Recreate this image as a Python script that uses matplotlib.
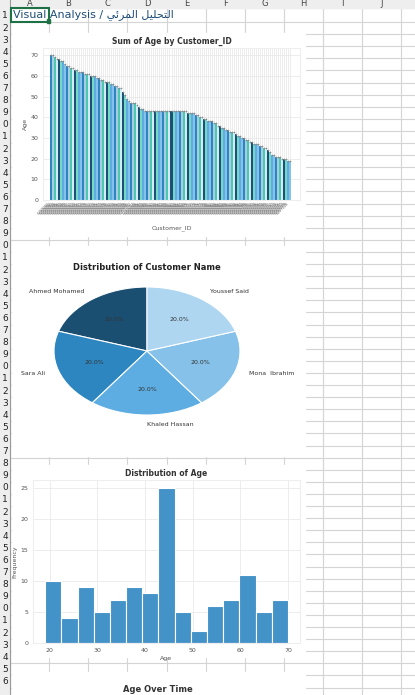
import numpy as np
import matplotlib.pyplot as plt
from matplotlib.patches import Rectangle

# ages per customer, already sorted high -> low
ages = [70, 70, 69, 68, 68, 67, 67,
        66, 65, 65, 64, 64,
        63, 63, 62, 62, 62, 61, 61, 61, 60, 60, 60,
        59, 59, 58, 58, 57, 57, 57,
        56, 56, 55, 55, 54, 54,
        52, 51,
        49, 48, 47, 47, 47,
        46, 45, 44, 44, 43, 43, 43, 43, 43, 43, 43, 43, 43, 43, 43, 43, 43, 43, 43, 43, 43, 43, 43, 43, 43,
        42, 42, 42, 42, 41, 41, 40, 40,
        39, 39, 38, 38, 38, 37, 37, 36, 36,
        35, 35, 34, 34, 33, 33, 33,
        32, 31, 31, 30, 30,
        29, 29, 28, 28, 27, 27, 27, 26, 26,
        25, 25, 24, 23,
        22, 22, 21, 21, 21, 20, 20, 20, 19, 19]
customer_ids = ["CUST%03d" % (i + 1) for i in range(len(ages))]

names = ["Ahmed Mohamed", "Sara Ali", "Khaled Hassan", "Mona  Ibrahim", "Youssef Said"]
shares = [20, 20, 20, 20, 20]
pie_colors = ["#1b4f72", "#2e86c1", "#5dade2", "#85c1e9", "#aed6f1"]

col_letters = ["A", "B", "C", "D", "E", "F", "G", "H", "I", "J"]

W, H = 415, 695
fig = plt.figure(figsize=(W / 100, H / 100), dpi=100)


def px_axes(x0, y0, x1, y1, **kw):
    return fig.add_axes([x0 / W, 1 - y1 / H, (x1 - x0) / W, (y1 - y0) / H], **kw)


# spreadsheet background
bg = px_axes(0, 0, W, H)
bg.set_xlim(0, W)
bg.set_ylim(H, 0)
bg.axis("off")
col_edges = [10, 49, 88, 127, 167, 206, 245, 284, 323, 362, 401]
row_edges = [8, 22] + [22 + 12.1 * k for k in range(1, 57)]
for x in col_edges:
    bg.plot([x, x], [0, H], color="#d4d4d4", lw=0.8)
for y in row_edges:
    bg.plot([0, W], [y, y], color="#d4d4d4", lw=0.8)
bg.add_patch(Rectangle((0, 0), W, 8, color="#eeeeee", zorder=2))
bg.add_patch(Rectangle((0, 0), 10, H, color="#eeeeee", zorder=2))
bg.plot([10, 10], [0, H], color="#9a9a9a", lw=0.8, zorder=3)
for i, c in enumerate(col_letters):
    bg.text((col_edges[i] + col_edges[i + 1]) / 2, 4, c, ha="center", va="center",
            fontsize=6, color="#444444", zorder=4)
for k in range(len(row_edges) - 1):
    yc = (row_edges[k] + row_edges[k + 1]) / 2
    if yc < H - 6:
        bg.text(5, yc, str(k + 1)[-1], ha="center", va="center",
                fontsize=6.5, color="#222222", zorder=4)
# chart images cover the grid
for y0, y1 in [(33, 236), (246, 456), (465, 657), (672, 695)]:
    bg.add_patch(Rectangle((12, y0), 293, y1 - y0, color="white", zorder=5))
bg.add_patch(Rectangle((11, 8), 38, 14, fill=False, ec="#1e7145", lw=1.5, zorder=7))
bg.add_patch(Rectangle((47, 19), 3, 4, color="#1e7145", zorder=7))
bg.text(13, 15, "Visual Analysis / \uFEF2\uFE8B\uFEAE\uFEE4\uFEDF\uFE8D \uFEDE\uFEF4\uFEE0\uFEA4\uFE98\uFEDF\uFE8D",
        fontsize=8, color="#1f4e79", va="center", zorder=6)
bg.text(158, 690, "Age Over Time", fontsize=6, fontweight="bold", ha="center",
        va="center", color="#333333", zorder=6)

# chart 1: bars
ax1 = px_axes(43, 48, 300, 200)
bar_cycle = ["#2e86c1", "#a9cce3", "#48c9b0", "#d6eaf8", "#1a5276", "#76d7c4", "#5dade2", "#85c1e9"]
xs = np.arange(len(ages))
ax1.bar(xs, ages, color=[bar_cycle[i % len(bar_cycle)] for i in xs], width=1.0, zorder=2)
ax1.plot(xs, ages, "o", color="#8a8a8a", ms=1.2, mew=0, zorder=3)
ax1.set_xticks(xs)
ax1.set_xticklabels(customer_ids, rotation=45, ha="right", fontsize=2.5, color="#555555")
ax1.set_xlim(-4, len(ages) + 4)
ax1.set_yticks(range(0, 71, 10))
ax1.tick_params(axis="y", labelsize=4.5, length=0, colors="#555555")
ax1.tick_params(axis="x", length=0, pad=1)
ax1.grid(color="#e6e6e6", lw=0.5, zorder=0)
ax1.set_axisbelow(True)
for s in ax1.spines.values():
    s.set_color("#eeeeee")
ax1.set_title("Sum of Age by Customer_ID", fontsize=5.5, fontweight="bold", color="#333333", pad=3)
ax1.set_xlabel("Customer_ID", fontsize=4.5, color="#555555", labelpad=7)
ax1.set_ylabel("Age", fontsize=4.5, color="#555555", labelpad=2)

# chart 2: pie
fig.text(147 / W, 1 - 267 / H, "Distribution of Customer Name", fontsize=6, fontweight="bold",
         ha="center", va="center", color="#222222")
ax2 = px_axes(54, 287, 240, 415)
ax2.pie(shares, labels=names, colors=pie_colors, startangle=90, autopct="%1.1f%%",
        pctdistance=0.6, labeldistance=1.15,
        textprops={"fontsize": 4.5, "color": "#333333"},
        wedgeprops={"edgecolor": "white", "linewidth": 0.8})
ax2.set_aspect("auto")
ax2.set_xlim(-1, 1)
ax2.set_ylim(-1, 1)

# chart 3: histogram
ax3 = px_axes(33, 480, 300, 643)
ax3.hist(ages, bins=15, color="#4393c8", edgecolor="white", linewidth=0.8, zorder=2)
ax3.set_xticks(range(20, 71, 10))
ax3.set_yticks(range(0, 26, 5))
ax3.tick_params(labelsize=4.5, length=0, colors="#555555")
ax3.grid(color="#e6e6e6", lw=0.5, zorder=0)
ax3.set_axisbelow(True)
for s in ax3.spines.values():
    s.set_color("#eeeeee")
ax3.set_title("Distribution of Age", fontsize=5.5, fontweight="bold", color="#333333", pad=3)
ax3.set_xlabel("Age", fontsize=4.5, color="#555555", labelpad=2)
ax3.set_ylabel("Frequency", fontsize=4.5, color="#555555", labelpad=2)

fig.savefig("out.png", dpi=100)
